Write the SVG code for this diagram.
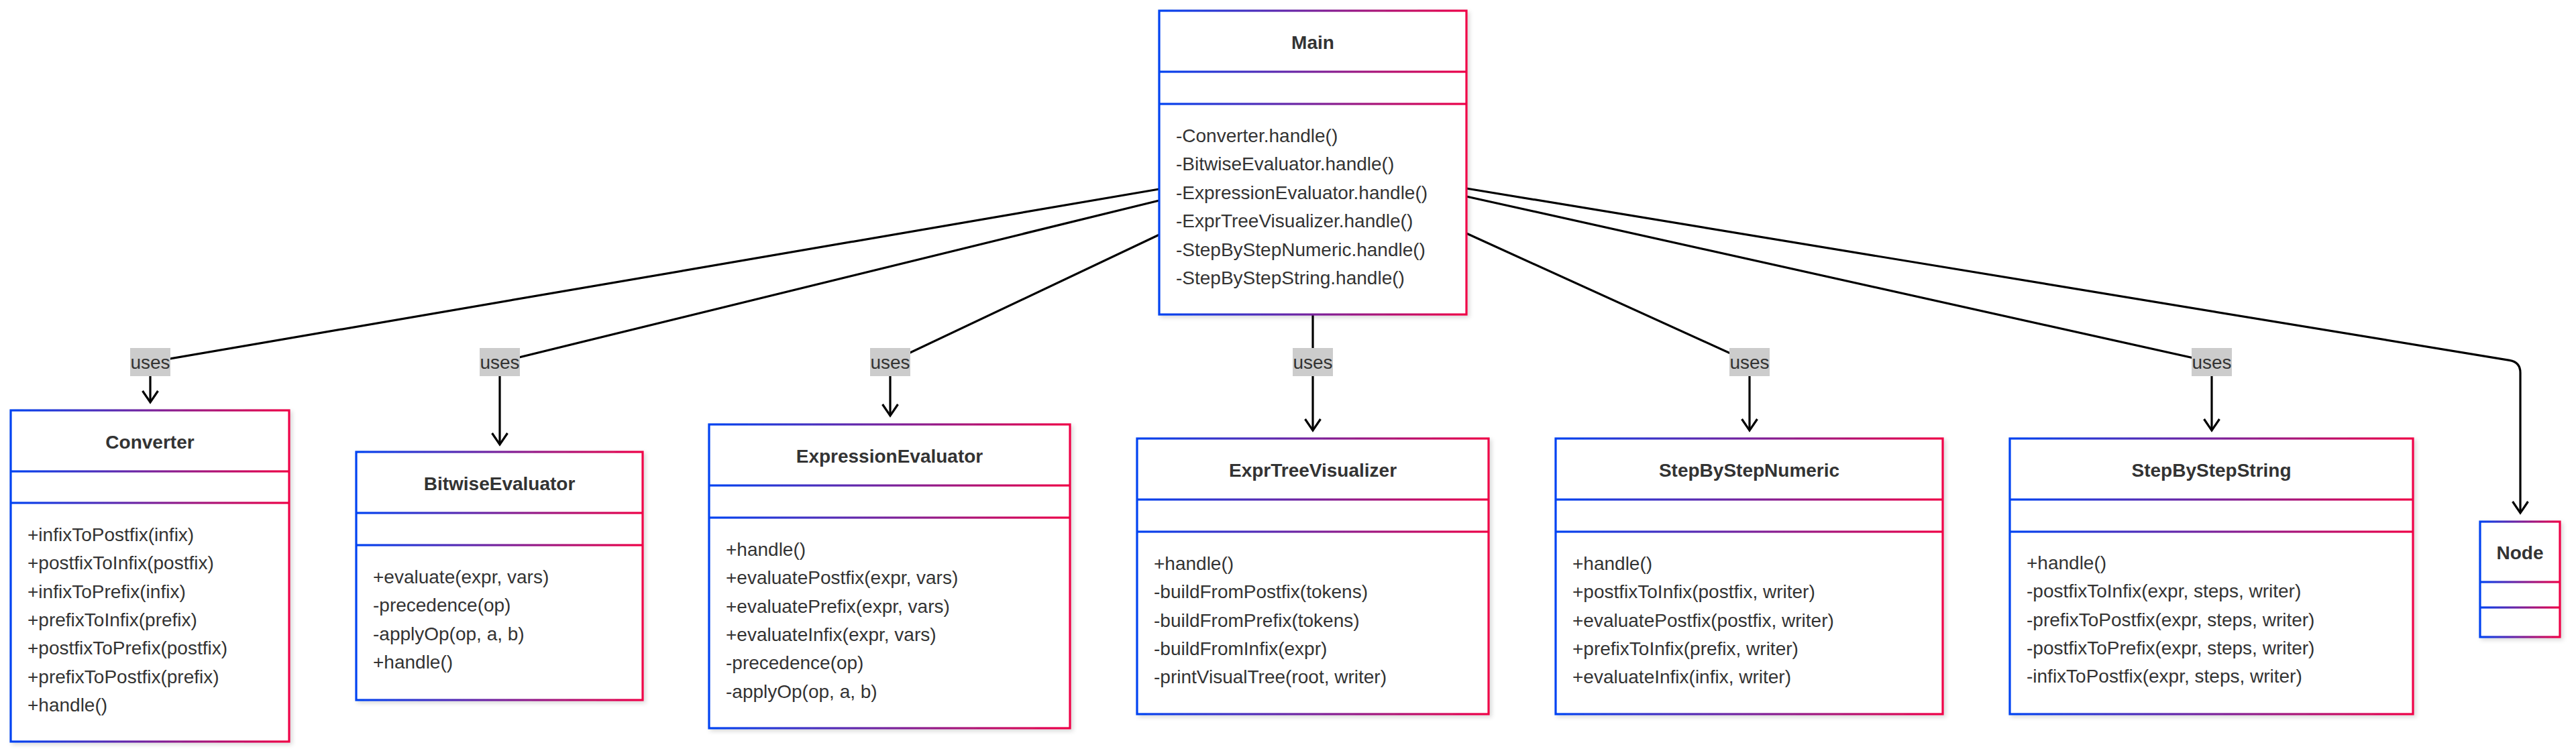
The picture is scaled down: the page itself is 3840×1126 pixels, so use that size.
<svg xmlns="http://www.w3.org/2000/svg" width="3840" height="1126" viewBox="0 0 3840 1126">
<style>
.bg{fill:#ffffff}
.box{fill:#ffffff;stroke:url(#grad);stroke-width:3.2;filter:url(#shadow)}
.div{fill:url(#grad)}
.t{font-family:"Liberation Sans",Arial,Helvetica,sans-serif;font-size:28px;fill:#333333}
.title{font-weight:bold;text-anchor:middle}
.edge{fill:none;stroke:#000000;stroke-width:3.2;marker-end:url(#arr)}
.lblbg{fill:#cccccc}
.lbl{font-family:"Liberation Sans",Arial,Helvetica,sans-serif;font-size:28px;fill:#333333;text-anchor:middle}
</style>
<defs>
<linearGradient id="grad" x1="0" y1="0" x2="1" y2="0">
<stop offset="0" stop-color="#0043f2"/>
<stop offset="1" stop-color="#ef0046"/>
</linearGradient>
<filter id="shadow" x="-10%" y="-10%" width="130%" height="130%">
<feDropShadow dx="3" dy="3" stdDeviation="3" flood-color="#000000" flood-opacity="0.15"/>
</filter>
<marker id="arr" markerUnits="userSpaceOnUse" viewBox="-22 -16 26 32" markerWidth="26" markerHeight="32" refX="0" refY="0" orient="auto">
<path d="M-17,-11.5 L0,0 L-17,11.5" fill="none" stroke="#000000" stroke-width="3.2" stroke-linejoin="miter"/>
</marker>
</defs>
<rect class="bg" x="0" y="0" width="3840" height="1126"/>

<g id="connectors">
<path class="edge" d="M1728,282 L224,540 L224,600"/>
<path class="edge" d="M1728,299 L745,540 L745,663"/>
<path class="edge" d="M1728,350 L1327,540 L1327,620"/>
<path class="edge" d="M1957,469 L1957,642"/>
<path class="edge" d="M2186,348 L2608,540 L2608,642"/>
<path class="edge" d="M2186,293 L3297,540 L3297,642"/>
<path class="edge" d="M2186,281 L3741,537.4 Q3757,540 3757,556 L3757,765"/>
</g>

<g id="edge-labels">
<rect class="lblbg" x="194" y="519" width="60" height="42"/><text class="lbl" x="224" y="550">uses</text>
<rect class="lblbg" x="715" y="519" width="60" height="42"/><text class="lbl" x="745" y="550">uses</text>
<rect class="lblbg" x="1297" y="519" width="60" height="42"/><text class="lbl" x="1327" y="550">uses</text>
<rect class="lblbg" x="1927" y="519" width="60" height="42"/><text class="lbl" x="1957" y="550">uses</text>
<rect class="lblbg" x="2578" y="519" width="60" height="42"/><text class="lbl" x="2608" y="550">uses</text>
<rect class="lblbg" x="3267" y="519" width="60" height="42"/><text class="lbl" x="3297" y="550">uses</text>
</g>

<g id="node-Main">
<rect class="box" x="1728" y="16" width="458" height="453"/>
<rect class="div" x="1728" y="105.4" width="458" height="3.2"/>
<rect class="div" x="1728" y="153.4" width="458" height="3.2"/>
<text class="t title" x="1957" y="73">Main</text>
<text class="t" x="1753" y="212">-Converter.handle()</text>
<text class="t" x="1753" y="254.4">-BitwiseEvaluator.handle()</text>
<text class="t" x="1753" y="296.8">-ExpressionEvaluator.handle()</text>
<text class="t" x="1753" y="339.2">-ExprTreeVisualizer.handle()</text>
<text class="t" x="1753" y="381.6">-StepByStepNumeric.handle()</text>
<text class="t" x="1753" y="424">-StepByStepString.handle()</text>
</g>

<g id="node-Converter">
<rect class="box" x="16" y="612" width="415" height="494"/>
<rect class="div" x="16" y="701.4" width="415" height="3.2"/>
<rect class="div" x="16" y="748.4" width="415" height="3.2"/>
<text class="t title" x="223.5" y="669">Converter</text>
<text class="t" x="41" y="807">+infixToPostfix(infix)</text>
<text class="t" x="41" y="849.3">+postfixToInfix(postfix)</text>
<text class="t" x="41" y="891.6">+infixToPrefix(infix)</text>
<text class="t" x="41" y="934">+prefixToInfix(prefix)</text>
<text class="t" x="41" y="976.3">+postfixToPrefix(postfix)</text>
<text class="t" x="41" y="1018.6">+prefixToPostfix(prefix)</text>
<text class="t" x="41" y="1061">+handle()</text>
</g>

<g id="node-BitwiseEvaluator">
<rect class="box" x="531" y="674" width="427" height="370"/>
<rect class="div" x="531" y="763.4" width="427" height="3.2"/>
<rect class="div" x="531" y="811.4" width="427" height="3.2"/>
<text class="t title" x="744.5" y="731">BitwiseEvaluator</text>
<text class="t" x="556" y="870">+evaluate(expr, vars)</text>
<text class="t" x="556" y="912.3">-precedence(op)</text>
<text class="t" x="556" y="954.6">-applyOp(op, a, b)</text>
<text class="t" x="556" y="997">+handle()</text>
</g>

<g id="node-ExpressionEvaluator">
<rect class="box" x="1057" y="633" width="538" height="453"/>
<rect class="div" x="1057" y="722.4" width="538" height="3.2"/>
<rect class="div" x="1057" y="770.4" width="538" height="3.2"/>
<text class="t title" x="1326" y="690">ExpressionEvaluator</text>
<text class="t" x="1082" y="829">+handle()</text>
<text class="t" x="1082" y="871.3">+evaluatePostfix(expr, vars)</text>
<text class="t" x="1082" y="913.6">+evaluatePrefix(expr, vars)</text>
<text class="t" x="1082" y="956">+evaluateInfix(expr, vars)</text>
<text class="t" x="1082" y="998.3">-precedence(op)</text>
<text class="t" x="1082" y="1040.6">-applyOp(op, a, b)</text>
</g>

<g id="node-ExprTreeVisualizer">
<rect class="box" x="1695" y="654" width="524" height="411"/>
<rect class="div" x="1695" y="743.4" width="524" height="3.2"/>
<rect class="div" x="1695" y="791.4" width="524" height="3.2"/>
<text class="t title" x="1957" y="711">ExprTreeVisualizer</text>
<text class="t" x="1720" y="850">+handle()</text>
<text class="t" x="1720" y="892.3">-buildFromPostfix(tokens)</text>
<text class="t" x="1720" y="934.6">-buildFromPrefix(tokens)</text>
<text class="t" x="1720" y="977">-buildFromInfix(expr)</text>
<text class="t" x="1720" y="1019.3">-printVisualTree(root, writer)</text>
</g>

<g id="node-StepByStepNumeric">
<rect class="box" x="2319" y="654" width="577" height="411"/>
<rect class="div" x="2319" y="743.4" width="577" height="3.2"/>
<rect class="div" x="2319" y="791.4" width="577" height="3.2"/>
<text class="t title" x="2607.5" y="711">StepByStepNumeric</text>
<text class="t" x="2344" y="850">+handle()</text>
<text class="t" x="2344" y="892.3">+postfixToInfix(postfix, writer)</text>
<text class="t" x="2344" y="934.6">+evaluatePostfix(postfix, writer)</text>
<text class="t" x="2344" y="977">+prefixToInfix(prefix, writer)</text>
<text class="t" x="2344" y="1019.3">+evaluateInfix(infix, writer)</text>
</g>

<g id="node-StepByStepString">
<rect class="box" x="2996" y="654" width="601" height="411"/>
<rect class="div" x="2996" y="743.4" width="601" height="3.2"/>
<rect class="div" x="2996" y="791.4" width="601" height="3.2"/>
<text class="t title" x="3296.5" y="711">StepByStepString</text>
<text class="t" x="3021" y="849">+handle()</text>
<text class="t" x="3021" y="891.3">-postfixToInfix(expr, steps, writer)</text>
<text class="t" x="3021" y="933.6">-prefixToPostfix(expr, steps, writer)</text>
<text class="t" x="3021" y="976">-postfixToPrefix(expr, steps, writer)</text>
<text class="t" x="3021" y="1018.3">-infixToPostfix(expr, steps, writer)</text>
</g>

<g id="node-Node">
<rect class="box" x="3697" y="778" width="119" height="172"/>
<rect class="div" x="3697" y="866.4" width="119" height="3.2"/>
<rect class="div" x="3697" y="904.4" width="119" height="3.2"/>
<text class="t title" x="3756.5" y="834">Node</text>
</g>
</svg>
